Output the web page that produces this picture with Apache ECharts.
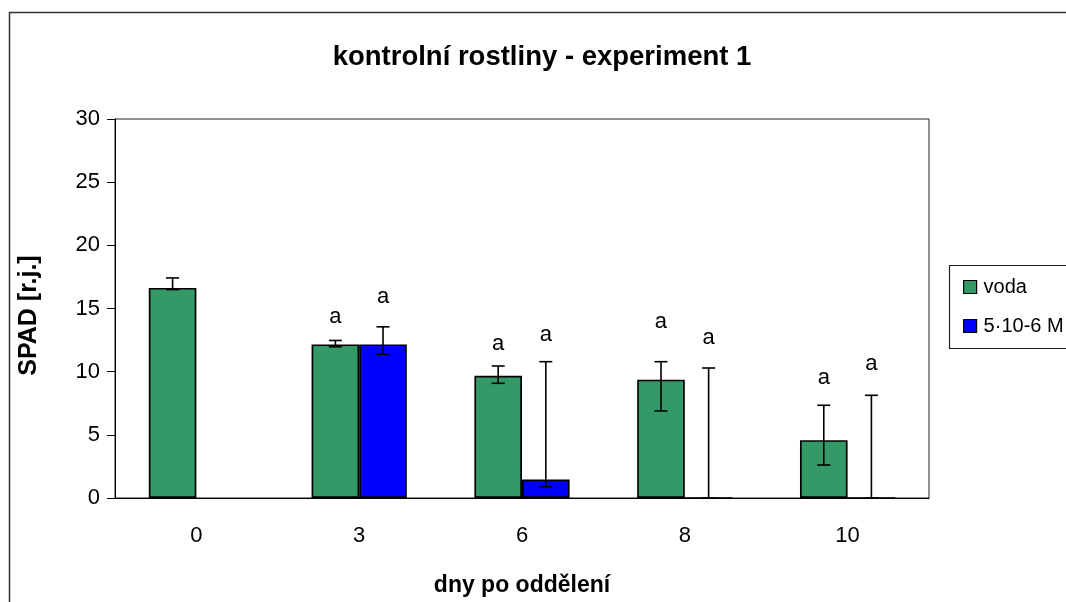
<!DOCTYPE html>
<html>
<head>
<meta charset="utf-8">
<script src="https://cdn.jsdelivr.net/npm/echarts@6/dist/echarts.min.js"></script>
<style>
html,body{margin:0;padding:0;background:#fff;}
#c{width:1066px;height:602px;}
</style>
</head>
<body>
<div id="c"></div>
<script>
const categories = ['0', '3', '6', '8', '10'];
const yTicks = [0, 5, 10, 15, 20, 25, 30];
const seriesNames = ['voda', '5·10-6 M'];
const voda = [16.63, 12.16, 9.68, 9.37, 4.58];
const vodaErrLow = [16.5, 11.97, 9.08, 6.89, 2.61];
const vodaErrHigh = [17.42, 12.47, 10.45, 10.79, 7.34];
const latka = [null, 12.16, 1.47, 0, 0];
const latkaErrLow = [null, 11.37, 0.89, 0, 0];
const latkaErrHigh = [null, 13.55, 10.79, 10.29, 8.13];
const vodaLetters = [null, 'a', 'a', 'a', 'a'];
const vodaLetterY = [null, 14.3, 12.2, 13.9, 9.5];
const latkaLetters = [null, 'a', 'a', 'a', 'a'];
const latkaLetterY = [null, 15.95, 12.9, 12.7, 10.6];

const FONT = '"Liberation Sans", Arial, sans-serif';
const CAT_GAP = 0.415;
const GREEN = '#339966';
const BLUE = '#0000ff';

function offsetFor(api, sIdx) {
  const band = api.size([1, 0])[0];
  const bw = band * (1 - CAT_GAP) / 2;
  return sIdx === 0 ? -bw / 2 : bw / 2;
}

function errSeries(sIdx, low, high) {
  const data = categories.map((c, i) => high[i] == null ? null : [i, low[i], high[i]]).filter(d => d);
  return {
    type: 'custom',
    z: 5,
    data: data,
    renderItem: function (params, api) {
      const i = api.value(0);
      const lo = api.coord([i, api.value(1)]);
      const hi = api.coord([i, api.value(2)]);
      const x = lo[0] + offsetFor(api, sIdx);
      const cap = 6.5;
      const st = { stroke: '#000', lineWidth: 1.6 };
      return {
        type: 'group',
        children: [
          { type: 'line', shape: { x1: x, y1: lo[1], x2: x, y2: hi[1] }, style: st },
          { type: 'line', shape: { x1: x - cap, y1: hi[1], x2: x + cap, y2: hi[1] }, style: st },
          { type: 'line', shape: { x1: x - cap, y1: lo[1], x2: x + cap, y2: lo[1] }, style: st }
        ]
      };
    }
  };
}

function letterSeries(sIdx, letters, ys) {
  const data = categories.map((c, i) => ys[i] == null ? null : [i, ys[i], letters[i]]).filter(d => d);
  return {
    type: 'custom',
    z: 6,
    data: data,
    renderItem: function (params, api) {
      const i = api.value(0);
      const p = api.coord([i, api.value(1)]);
      return {
        type: 'text',
        x: p[0] + offsetFor(api, sIdx),
        y: p[1],
        style: {
          text: data[params.dataIndex][2],
          fill: '#000',
          font: '22px ' + FONT,
          align: 'center',
          verticalAlign: 'middle'
        }
      };
    }
  };
}

const chart = echarts.init(document.getElementById('c'), null, { renderer: 'canvas' });
chart.setOption({
  animation: false,
  backgroundColor: '#fff',
  title: {
    text: 'kontrolní rostliny - experiment 1',
    left: 537,
    textAlign: 'center',
    top: 38,
    textStyle: { fontFamily: FONT, fontSize: 27.5, fontWeight: 'bold', color: '#000' }
  },
  legend: {
    orient: 'vertical',
    left: 958,
    top: 272,
    itemWidth: 13,
    itemHeight: 13,
    itemGap: 19,
    icon: 'rect',
    data: seriesNames,
    textStyle: { fontFamily: FONT, fontSize: 20, color: '#000', padding: [0, 0, 0, 2] },
    itemStyle: { borderColor: '#000', borderWidth: 1.2 }
  },
  graphic: [
    { type: 'rect', shape: { x: 9.5, y: 12.5, width: 1100, height: 700 }, style: { fill: 'none', stroke: '#333', lineWidth: 1.5 }, z: -1 },
    { type: 'rect', shape: { x: 949.5, y: 265.5, width: 200, height: 83 }, style: { fill: '#fff', stroke: '#222', lineWidth: 1.2 }, z: 0 }
  ],
  grid: {
    left: 115, top: 119, right: 137, bottom: 103,
    show: true, borderColor: '#222', borderWidth: 1, backgroundColor: 'transparent'
  },
  xAxis: {
    type: 'category',
    data: categories,
    name: 'dny po oddělení',
    nameLocation: 'middle',
    nameGap: 76,
    nameTextStyle: { fontFamily: FONT, fontSize: 23, fontWeight: 'bold', color: '#000' },
    axisLine: { lineStyle: { color: '#000', width: 1 } },
    axisTick: { show: false },
    axisLabel: { fontFamily: FONT, fontSize: 22, color: '#000', margin: 27 }
  },
  yAxis: {
    type: 'value',
    min: 0, max: 30, interval: 5,
    name: 'SPAD [r.j.]',
    nameLocation: 'middle',
    nameGap: 73,
    nameRotate: 90,
    nameTextStyle: { fontFamily: FONT, fontSize: 25, fontWeight: 'bold', color: '#000', padding: [0, 14, 0, 0] },
    axisLine: { show: true, lineStyle: { color: '#000', width: 1 } },
    axisTick: { show: true, length: 8, lineStyle: { color: '#000' } },
    splitLine: { show: false },
    axisLabel: {
      fontFamily: FONT, fontSize: 22, color: '#000', margin: 15,
      formatter: v => yTicks.includes(v) ? String(v) : ''
    }
  },
  series: [
    {
      name: seriesNames[0], type: 'bar', data: voda,
      barGap: '0%', barCategoryGap: (CAT_GAP * 100) + '%',
      itemStyle: { color: GREEN, borderColor: '#000', borderWidth: 1.7 }
    },
    {
      name: seriesNames[1], type: 'bar', data: latka,
      barGap: '0%', barCategoryGap: (CAT_GAP * 100) + '%',
      itemStyle: { color: BLUE, borderColor: '#000', borderWidth: 1.7 }
    },
    errSeries(0, vodaErrLow, vodaErrHigh),
    errSeries(1, latkaErrLow, latkaErrHigh),
    letterSeries(0, vodaLetters, vodaLetterY),
    letterSeries(1, latkaLetters, latkaLetterY)
  ]
});
</script>
</body>
</html>
